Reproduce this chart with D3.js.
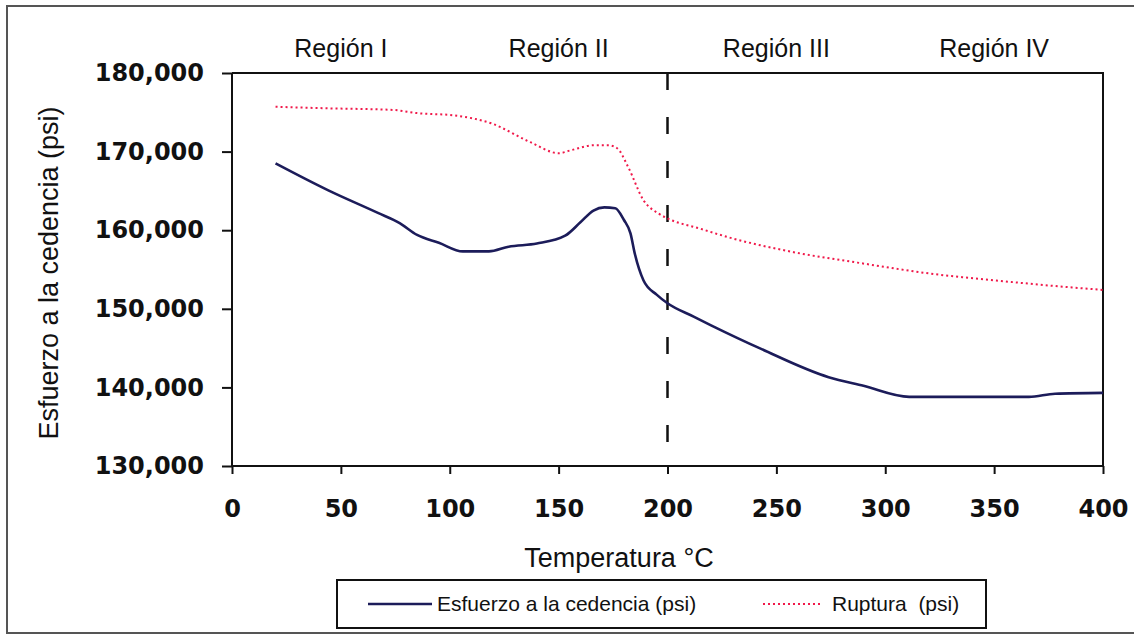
<!DOCTYPE html>
<html lang="es">
  <head>
    <meta charset="utf-8">
    <title>Esfuerzo vs temperatura</title>
    <script src="https://d3js.org/d3.v7.js"></script>
    <style>
      body { margin: 0; background: #fff; }
    </style>
  </head>
  <body>
  <script>

// yield stress (blue) and rupture (red) vs temperature
var cedTemp = [20, 44, 67, 77, 85, 95, 106, 118, 127, 140, 153, 160, 166, 171, 176, 180, 183, 185, 189, 195, 200, 212, 220, 243, 274, 290, 311, 340, 366, 378, 400];
var cedVal  = [168500, 165100, 162200, 160900, 159400, 158400, 157300, 157300, 157900, 158300, 159300, 161000, 162500, 162900, 162800, 161300, 159600, 157000, 153600, 151800, 150700, 149000, 147900, 144900, 141300, 140200, 138800, 138800, 138800, 139200, 139300];

var rupTemp = [20, 45, 74, 85, 102, 119, 137, 150, 156, 166, 173, 177, 182, 189, 196, 200, 215, 228, 258, 289, 320, 351, 382, 400];
var rupVal  = [175700, 175500, 175300, 174900, 174600, 173600, 171200, 169800, 170200, 170800, 170800, 170400, 168000, 163800, 162100, 161500, 160200, 159100, 157200, 155800, 154500, 153600, 152800, 152400];

var xTicks = [0, 50, 100, 150, 200, 250, 300, 350, 400];
var yTicks = [130000, 140000, 150000, 160000, 170000, 180000];
var regionLabels = ["Región I", "Región II", "Región III", "Región IV"];
var regionCenters = [50, 150, 250, 350];
var divider = 200;

var w = 1134, h = 638;
var margin = {top: 73, right: 31, bottom: 172, left: 232};
var innerWidth = w - margin.left - margin.right;
var innerHeight = h - margin.top - margin.bottom;

var svg = d3.select("body").append("svg")
    .attr("width", w)
    .attr("height", h);

// outer frame
svg.append("path")
    .attr("d", "M1134,6 H7 V633 H1134")
    .attr("fill", "none")
    .attr("stroke", "#555")
    .attr("stroke-width", 2);

var xScale = d3.scaleLinear().domain([0, 400]).range([0, innerWidth]);
var yScale = d3.scaleLinear().domain([130000, 180000]).range([innerHeight, 0]);

var g = svg.append("g")
    .attr("transform", `translate(${margin.left}, ${margin.top})`);

// plot border (top + right)
g.append("path")
    .attr("d", `M0,0 H${innerWidth} V${innerHeight}`)
    .attr("fill", "none")
    .attr("stroke", "#111")
    .attr("stroke-width", 2);

var fmt = d3.format(",");

var xAxis = d3.axisBottom(xScale).tickValues(xTicks).tickSize(8).tickPadding(26).tickFormat(d => d);
var yAxis = d3.axisLeft(yScale).tickValues(yTicks).tickSize(10).tickPadding(18).tickFormat(fmt);

var gx = g.append("g")
    .attr("transform", `translate(0, ${innerHeight})`)
    .call(xAxis);
var gy = g.append("g").call(yAxis);

[gx, gy].forEach(function (a) {
  a.select(".domain").attr("stroke", "#111").attr("stroke-width", 2);
  a.selectAll(".tick line").attr("stroke", "#111").attr("stroke-width", 2);
  a.selectAll("text")
      .attr("font-family", "DejaVu Sans")
      .attr("font-weight", "bold")
      .attr("font-size", 24)
      .attr("fill", "#111");
});
gx.select(".domain").attr("d", `M0,0H${innerWidth}`);
gy.select(".domain").attr("d", `M0,0V${innerHeight}`);

// vertical dashed divider
g.append("line")
    .attr("x1", xScale(divider)).attr("x2", xScale(divider))
    .attr("y1", yScale(180000)).attr("y2", yScale(130000))
    .attr("stroke", "#111")
    .attr("stroke-width", 2.5)
    .attr("stroke-dasharray", "17 27");

var line = d3.line()
    .x(d => xScale(d[0]))
    .y(d => yScale(d[1]))
    .curve(d3.curveMonotoneX);

var ruptura = rupTemp.map((t, i) => [t, rupVal[i]]);
var cedencia = cedTemp.map((t, i) => [t, cedVal[i]]);

g.append("path")
    .datum(ruptura)
    .attr("d", line)
    .attr("fill", "none")
    .attr("stroke", "#f0194a")
    .attr("stroke-width", 2)
    .attr("stroke-dasharray", "2 3");

g.append("path")
    .datum(cedencia)
    .attr("d", line)
    .attr("fill", "none")
    .attr("stroke", "#1c1c5a")
    .attr("stroke-width", 2.6);

// region labels above the plot
svg.selectAll(".region")
    .data(regionLabels)
  .enter().append("text")
    .attr("class", "region")
    .attr("x", (d, i) => margin.left + xScale(regionCenters[i]))
    .attr("y", 57)
    .attr("text-anchor", "middle")
    .attr("font-family", "Liberation Sans, Arial")
    .attr("font-size", 25)
    .attr("fill", "#111")
    .text(d => d);

// axis titles
svg.append("text")
    .attr("x", 619)
    .attr("y", 567)
    .attr("text-anchor", "middle")
    .attr("font-family", "Liberation Sans, Arial")
    .attr("font-size", 27)
    .attr("fill", "#111")
    .text("Temperatura °C");

svg.append("text")
    .attr("transform", "translate(58, 273) rotate(-90)")
    .attr("text-anchor", "middle")
    .attr("font-family", "Liberation Sans, Arial")
    .attr("font-size", 27)
    .attr("fill", "#111")
    .text("Esfuerzo a la cedencia (psi)");

// legend
var lg = svg.append("g");
lg.append("rect")
    .attr("x", 337).attr("y", 580)
    .attr("width", 649).attr("height", 48)
    .attr("fill", "#fff")
    .attr("stroke", "#111")
    .attr("stroke-width", 2);
lg.append("line")
    .attr("x1", 368).attr("x2", 432).attr("y1", 604).attr("y2", 604)
    .attr("stroke", "#1c1c5a").attr("stroke-width", 2.6);
lg.append("text")
    .attr("x", 437).attr("y", 611)
    .attr("font-family", "Liberation Sans, Arial")
    .attr("font-size", 21)
    .attr("fill", "#111")
    .text("Esfuerzo a la cedencia (psi)");
lg.append("line")
    .attr("x1", 763).attr("x2", 821).attr("y1", 604).attr("y2", 604)
    .attr("stroke", "#f0194a").attr("stroke-width", 2)
    .attr("stroke-dasharray", "2 3");
lg.append("text")
    .attr("x", 832).attr("y", 611)
    .attr("font-family", "Liberation Sans, Arial")
    .attr("font-size", 21)
    .attr("fill", "#111")
    .style("white-space", "pre")
    .text("Ruptura  (psi)");

  </script>
  </body>
</html>
